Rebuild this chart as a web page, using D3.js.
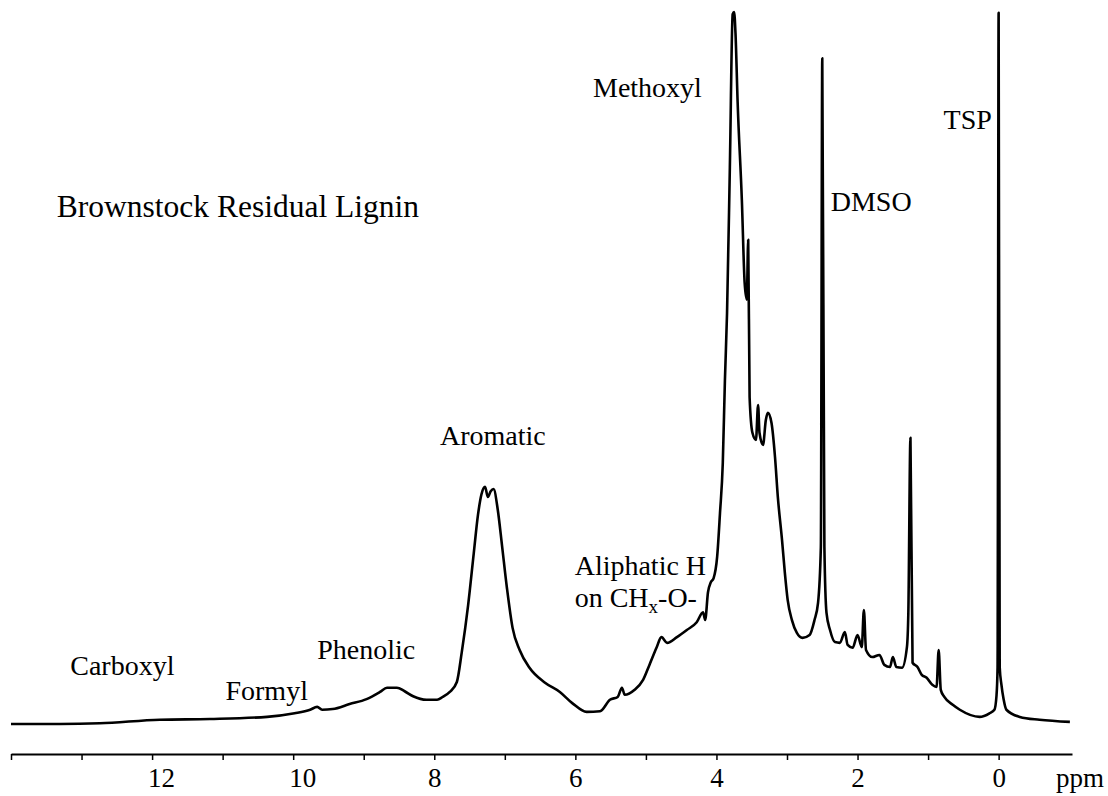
<!DOCTYPE html>
<html>
<head>
<meta charset="utf-8">
<script src="https://cdn.jsdelivr.net/npm/d3@7"></script>
<style>
  body { margin: 0; background: #fff; }
  svg { display: block; }
</style>
</head>
<body>
<div id="root"></div>
<script>
// chemical shift (ppm) of each trace point
var shifts = [14.00, 13.31, 12.74, 11.89, 11.18, 10.37, 9.98, 9.76, 9.66, 9.59, 9.44, 9.20, 8.96, 8.77, 8.67, 8.53, 8.42, 8.30, 8.11, 7.96,
  7.88, 7.78, 7.68, 7.61, 7.52, 7.44, 7.38, 7.33, 7.28, 7.24, 7.20, 7.16, 7.10, 7.04, 6.97, 6.89, 6.79, 6.65, 6.43, 6.22,
  6.04, 5.84, 5.65, 5.51, 5.40, 5.34, 5.30, 5.16, 5.04, 4.95, 4.85, 4.78, 4.70, 4.56, 4.42, 4.28, 4.19, 4.16, 4.12, 4.08,
  4.04, 3.99, 3.95, 3.91, 3.88, 3.85, 3.81, 3.77, 3.75, 3.73, 3.70, 3.64, 3.60, 3.57, 3.55, 3.53, 3.49, 3.44, 3.41, 3.39,
  3.34, 3.30, 3.27, 3.22, 3.17, 3.13, 3.07, 3.03, 2.99, 2.93, 2.86, 2.78, 2.68, 2.61, 2.56, 2.52, 2.50, 2.47, 2.44, 2.39,
  2.32, 2.25, 2.18, 2.14, 2.07, 2.00, 1.94, 1.91, 1.88, 1.79, 1.69, 1.62, 1.54, 1.50, 1.45, 1.37, 1.30, 1.28, 1.25, 1.22,
  1.15, 1.09, 1.02, 0.94, 0.88, 0.85, 0.82, 0.77, 0.65, 0.55, 0.27, 0.13, 0.06, 0.03, 0.015, 0.00, -0.015, -0.04, -0.07, -0.11,
  -0.30, -0.58, -1.01];

// relative intensity (methoxyl max = 100)
var intensity = [0.0, 0.0, 0.1, 0.6, 0.7, 1.0, 1.5, 2.0, 2.4, 2.0, 2.1, 2.8, 3.5, 4.5, 5.1, 5.1, 4.6, 3.9, 3.4, 3.4,
  3.8, 4.5, 5.9, 10.1, 16.7, 24.0, 29.4, 32.3, 33.3, 31.9, 32.7, 33.0, 30.1, 25.1, 19.1, 13.5, 10.4, 7.9, 5.8, 4.5,
  2.9, 1.7, 1.8, 3.4, 3.8, 5.1, 4.1, 4.8, 6.2, 8.3, 10.7, 12.2, 11.4, 12.2, 13.2, 14.3, 15.7, 14.6, 18.5, 19.9,
  20.5, 23.5, 29.6, 36.7, 48.3, 57.7, 78.2, 99.7, 100, 97.0, 87.4, 73.6, 61.9, 59.6, 68.0, 45.9, 40.9, 39.9, 44.8, 40.9,
  39.2, 42.7, 43.7, 42.3, 37.5, 31.9, 25.8, 21.2, 17.4, 14.6, 12.8, 12.1, 12.5, 14.6, 17.0, 24.9, 93.5, 24.9, 15.6, 13.2,
  11.5, 11.4, 12.9, 11.1, 10.7, 12.5, 10.8, 16.0, 10.4, 9.4, 9.7, 8.3, 8.0, 9.4, 8.0, 7.9, 10.8, 15.6, 40.2, 8.6,
  8.0, 6.9, 6.5, 5.5, 5.2, 10.4, 4.8, 3.8, 2.7, 2.0, 1.0, 1.5, 2.0, 4.0, 8.0, 99.9, 8.0, 5.5, 3.5, 2.0,
  1.0, 0.6, 0.3];

var tickValues = d3.range(14, -1, -1);
var tickLabels = [12, 10, 8, 6, 4, 2, 0];

// peak annotations, anchored in data units (ppm, intensity)
var labelText = ["Methoxyl", "DMSO", "TSP", "Aromatic", "Aliphatic H", "on CH|x|-O-", "Phenolic", "Carboxyl", "Formyl"];
var labelPpm = [5.75, 2.38, 0.78, 7.92, 6.01, 6.01, 9.66, 13.16, 10.96];
var labelInt = [88.1, 72.1, 83.6, 39.2, 20.9, 16.4, 9.1, 6.9, 3.4];

var title = "Brownstock Residual Lignin";

var serif = "'Liberation Serif'";
var width = 1108, height = 796;

var svg = d3.select("#root").append("svg")
    .attr("width", width)
    .attr("height", height);

var x = d3.scaleLinear().domain([14, -1.04]).range([11, 1072]);
var y = d3.scaleLinear().domain([0, 100]).range([724, 12]);

var data = shifts.map(function(s, i){ return {ppm: s, v: intensity[i]}; });

var line = d3.line()
    .curve(d3.curveMonotoneX)
    .x(function(d){ return x(d.ppm); })
    .y(function(d){ return y(d.v); });

svg.append("path")
    .datum(data)
    .attr("d", line)
    .attr("fill", "none")
    .attr("stroke", "#000")
    .attr("stroke-width", 2.6)
    .attr("stroke-linejoin", "round");

// ppm axis
var axis = svg.append("g")
    .attr("transform", "translate(0,754)")
    .call(d3.axisBottom(x)
        .tickValues(tickValues)
        .tickSize(6)
        .tickSizeOuter(0)
        .tickPadding(8)
        .tickFormat(function(d){ return tickLabels.indexOf(d) >= 0 ? d : ""; }));

axis.attr("font-family", null);
axis.select(".domain").attr("stroke", "#000").attr("stroke-width", 2);
axis.selectAll(".tick line").attr("stroke", "#000").attr("stroke-width", 1.5);
axis.selectAll(".tick text")
    .style("font-family", serif)
    .attr("font-size", 27)
    .attr("fill", "#000")
    .attr("dx", function(d){ return d >= 10 ? 9 : 0; });

svg.append("text")
    .attr("x", 1056)
    .attr("y", 787)
    .attr("font-size", 27)
    .style("font-family", serif)
    .text("ppm");

svg.append("text")
    .attr("x", x(13.35))
    .attr("y", y(71.2))
    .attr("font-size", 31.5)
    .style("font-family", serif)
    .text(title);

labelText.forEach(function(t, i){
    var el = svg.append("text")
        .attr("x", x(labelPpm[i]))
        .attr("y", y(labelInt[i]))
        .attr("font-size", 28)
        .style("font-family", serif);
    var parts = t.split("|");
    if (parts.length === 1){ el.text(t); return; }
    el.append("tspan").text(parts[0]);
    el.append("tspan").attr("font-size", 19).attr("dy", 6).text(parts[1]);
    el.append("tspan").attr("dy", -6).text(parts[2]);
});
</script>
</body>
</html>
